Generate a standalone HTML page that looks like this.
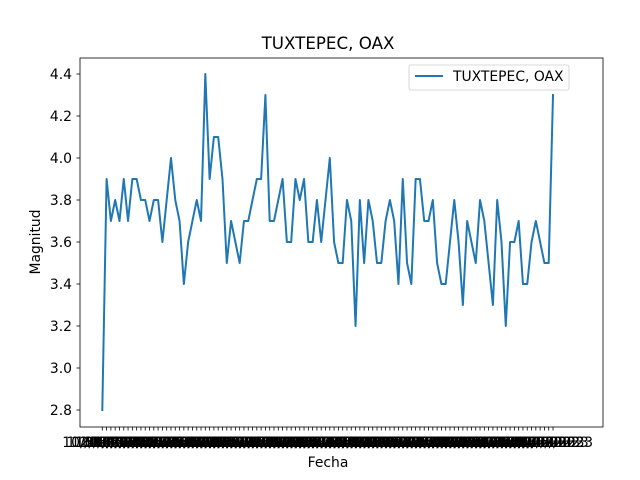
<!DOCTYPE html>
<html><head><meta charset="utf-8"><style>
body{margin:0;background:#fff}
svg{display:block;font-family:"DejaVu Sans","Liberation Sans",sans-serif}
</style></head><body>
<svg id="chart" width="640" height="480" viewBox="0 0 640 480">
<rect x="0" y="0" width="640" height="480" fill="#fff"/>
<text x="328" y="49" font-size="16.7" text-anchor="middle">TUXTEPEC, OAX</text>
<g id="yticks"></g>
<g id="xticks"></g>
<polyline id="series" fill="none" stroke="#1f77b4" stroke-width="2" stroke-linejoin="round" stroke-linecap="square"/>
<rect x="80" y="58" width="523" height="369" fill="none" stroke="#000" stroke-width="0.8"/>
<text x="328" y="467" font-size="13.9" text-anchor="middle">Fecha</text>
<text transform="translate(40,242) rotate(-90)" font-size="13.9" text-anchor="middle">Magnitud</text>
<g>
<rect x="409" y="65" width="160" height="25" rx="2" fill="#fff" stroke="#ccc" stroke-width="0.8"/>
<line x1="415" y1="76" x2="443" y2="76" stroke="#1f77b4" stroke-width="2"/>
<text x="453" y="81" font-size="13.9">TUXTEPEC, OAX</text>
</g>
</svg>
<script>
const magnitudes = [2.8,3.9,3.7,3.8,3.7,3.9,3.7,3.9,3.9,3.8,3.8,3.7,3.8,3.8,3.6,3.8,4.0,3.8,3.7,3.4,3.6,3.7,3.8,3.7,4.4,3.9,4.1,4.1,3.9,3.5,3.7,3.6,3.5,3.7,3.7,3.8,3.9,3.9,4.3,3.7,3.7,3.8,3.9,3.6,3.6,3.9,3.8,3.9,3.6,3.6,3.8,3.6,3.8,4.0,3.6,3.5,3.5,3.8,3.7,3.2,3.8,3.5,3.8,3.7,3.5,3.5,3.7,3.8,3.7,3.4,3.9,3.5,3.4,3.9,3.9,3.7,3.7,3.8,3.5,3.4,3.4,3.6,3.8,3.6,3.3,3.7,3.6,3.5,3.8,3.7,3.5,3.3,3.8,3.6,3.2,3.6,3.6,3.7,3.4,3.4,3.6,3.7,3.6,3.5,3.5,4.3];
const yTickValues = [2.8,3.0,3.2,3.4,3.6,3.8,4.0,4.2,4.4];
const dateLabels = magnitudes.map((_, i) => (10 + (i % 19)) + "/0" + (1 + (i % 9)) + "/2023");

const NS = "http://www.w3.org/2000/svg";
const svg = document.getElementById("chart");
const X0 = 102.3, X1 = 553;
function xScale(i){ return X0 + i * (X1 - X0) / (magnitudes.length - 1); }
function yScale(v){ return 74 + (4.4 - v) * 210; }

const yg = document.getElementById("yticks");
yTickValues.forEach(v => {
  const y = yScale(v);
  const l = document.createElementNS(NS, "line");
  l.setAttribute("x1", 76.5); l.setAttribute("x2", 80); l.setAttribute("y1", y); l.setAttribute("y2", y);
  l.setAttribute("stroke", "#000"); l.setAttribute("stroke-width", "0.8");
  
  
  yg.appendChild(l);
  const t = document.createElementNS(NS, "text");
  t.setAttribute("x", 72); t.setAttribute("y", y + 5);
  t.setAttribute("font-size", "13.9"); t.setAttribute("text-anchor", "end");
  t.textContent = v.toFixed(1);
  
  
  yg.appendChild(t);
});

const xg = document.getElementById("xticks");
dateLabels.forEach((lab, i) => {
  const x = xScale(i);
  const l = document.createElementNS(NS, "line");
  l.setAttribute("x1", x); l.setAttribute("x2", x); l.setAttribute("y1", 427); l.setAttribute("y2", 430.5);
  l.setAttribute("stroke", "#000"); l.setAttribute("stroke-width", "0.8");
  
  
  xg.appendChild(l);
  const t = document.createElementNS(NS, "text");
  t.setAttribute("x", x); t.setAttribute("y", 447);
  t.setAttribute("font-size", "13.9"); t.setAttribute("text-anchor", "middle");
  t.textContent = lab;
  
  
  xg.appendChild(t);
});

document.getElementById("series").setAttribute("points",
  magnitudes.map((v, i) => xScale(i).toFixed(2) + "," + yScale(v).toFixed(2)).join(" "));
</script>
</body></html>
